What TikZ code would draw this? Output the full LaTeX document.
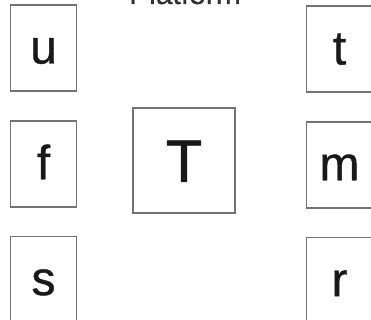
\documentclass[tikz,border=0pt]{standalone}
\usepackage{fontspec}
\setmainfont{Liberation Sans}
\newfontfamily\letterfont{Liberation Sans}[FakeBold=0.8]
\usepackage{xcolor}
\usetikzlibrary{positioning}

\begin{document}
\begin{tikzpicture}[
    x=1pt, y=1pt,
    node distance=28pt,
    letterbox/.style={
        rectangle,
        draw=black!55,
        line width=1.8pt,
        text=black!90,
        minimum width=66pt,
        minimum height=86pt,
        text height=31pt,
        text depth=0pt,
        font=\letterfont\fontsize{48}{48}\selectfont
    },
    bigbox/.style={
        letterbox,
        minimum width=102pt,
        minimum height=105pt,
        text height=43pt,
        font=\letterfont\fontsize{60}{60}\selectfont
    }
]
\useasboundingbox (0,0) rectangle (371,320);
\clip (0,0) rectangle (371,320);

\node[anchor=base, text=black!80, font=\letterfont\fontsize{30}{30}\selectfont] (title) at (185,316) {Platform};

\node[letterbox] (u) at (43.5,272) {u};
\node[letterbox, below=of u] (f) {f};
\node[letterbox, below=of f] (s) {s};

\node[bigbox] (T) at (184,159.5) {T};

\node[letterbox] (t) at (339.5,271) {t};
\node[letterbox, below=of t] (m) {m};
\node[letterbox, below=of m] (r) {r};

\end{tikzpicture}
\end{document}
